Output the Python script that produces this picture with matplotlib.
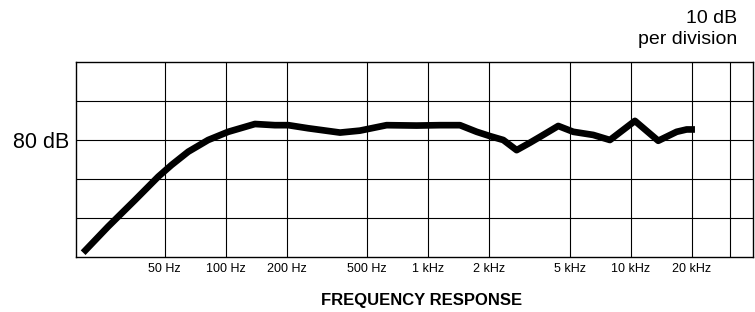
import matplotlib
matplotlib.use('Agg')
import matplotlib.pyplot as plt
import numpy as np

plt.rcParams['font.family'] = ['Liberation Sans', 'DejaVu Sans']

# Response curve (Hz, dB)
freq = [19.8, 26.3, 35.7, 46.5, 54.1, 65.4, 82, 103, 139.5, 175, 204, 256,
        292, 367, 460, 623, 876, 1142, 1434, 1734, 2016, 2346, 2731, 3177,
        3559, 4383, 5196, 6522, 7885, 10475, 13655, 16831, 18857, 20720]
level = [51.1, 57.8, 64.6, 70.6, 73.6, 77.0, 80.0, 82.1, 84.1, 83.8, 83.8, 83.0,
         82.6, 81.9, 82.4, 83.8, 83.7, 83.8, 83.8, 82.1, 81.0, 80.0, 77.4, 79.3,
         80.8, 83.6, 82.1, 81.3, 80.0, 84.9, 79.8, 82.1, 82.7, 82.7]

tick_freqs = [50, 100, 200, 500, 1000, 2000, 5000, 10000, 20000]
tick_labels = ['50 Hz', '100 Hz', '200 Hz', '500 Hz', '1 kHz', '2 kHz', '5 kHz', '10 kHz', '20 kHz']
extra_grid = [31000]
db_grid = [60, 70, 90]

fig = plt.figure(figsize=(7.55, 3.12), dpi=100)
ax = fig.add_axes([0.1003, 0.1763, 0.8971, 0.625])

ax.plot(freq, level, color='black', linewidth=4.8, solid_capstyle='butt',
        solid_joinstyle='round')

ax.set_xscale('log')
ax.set_xlim(18.2, 40100)
ax.set_ylim(50, 100)

ax.set_xticks(tick_freqs)
ax.set_xticklabels(tick_labels)
ax.set_xticks(extra_grid, minor=True)
ax.set_yticks([80])
ax.set_yticklabels(['80 dB'])
ax.set_yticks(db_grid, minor=True)
ax.xaxis.set_minor_formatter(matplotlib.ticker.NullFormatter())

ax.tick_params(axis='x', which='both', length=0, pad=4, labelsize=9)
ax.tick_params(axis='y', which='both', length=0, pad=5, labelsize=15.5)
ax.grid(True, which='both', color='black', linewidth=0.8)
ax.set_axisbelow(True)
for s in ax.spines.values():
    s.set_linewidth(1.0)

fig.text(0.976, 0.925, '10 dB', ha='right', va='baseline', fontsize=14)
fig.text(0.976, 0.86, 'per division', ha='right', va='baseline', fontsize=14)
fig.text(0.558, 0.038, 'FREQUENCY RESPONSE', ha='center', va='center',
         fontsize=12, fontweight='bold')

fig.savefig('out.png', dpi=100)
